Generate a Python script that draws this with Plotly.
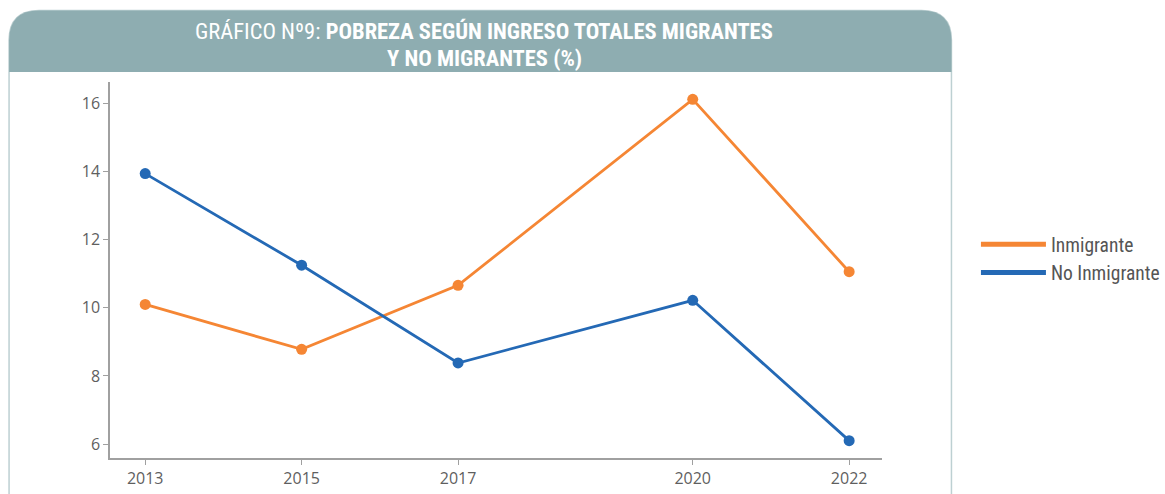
import plotly.graph_objects as go

years = [2013, 2015, 2017, 2020, 2022]
inmigrante = [10.1, 8.78, 10.66, 16.12, 11.06]
no_inmigrante = [13.94, 11.25, 8.38, 10.22, 6.1]
series_names = ["Inmigrante", "No Inmigrante"]
y_ticks = [6, 8, 10, 12, 14, 16]
x_ticks = [2013, 2015, 2017, 2020, 2022]

ORANGE = "#F58634"
BLUE = "#2469B5"
TEAL = "#8EADB1"

W, H = 1165, 494
OFF = 0  # page body margin removed by post_script
# plot-area edges in screen pixels
SL, SR, ST, SB = 109.5, 882, 81.7, 458.3
L, R, T, B = SL - OFF, SR - OFF, ST - OFF, SB - OFF


def px(x):
    return (x - OFF - L) / (R - L)


def py(y):
    return (B - (y - OFF)) / (B - T)


fig = go.Figure()
for name, vals, col in [(series_names[0], inmigrante, ORANGE), (series_names[1], no_inmigrante, BLUE)]:
    fig.add_trace(go.Scatter(x=years, y=vals, mode="lines+markers", name=name,
                             line=dict(color=col, width=2.8), marker=dict(color=col, size=11),
                             showlegend=False))
for name, col in [(series_names[0], ORANGE), (series_names[1], BLUE)]:
    fig.add_trace(go.Scatter(x=[None], y=[None], mode="lines", name=name,
                             line=dict(color=col, width=5)))

# frame + header banner
r = 30
x0, x1, y0, y1 = 8.5, 951.5, 10, 71.7
banner = (f"M {px(x0)},{py(y1)} L {px(x0)},{py(y0 + r)} "
          f"Q {px(x0)},{py(y0)} {px(x0 + r)},{py(y0)} "
          f"L {px(x1 - r)},{py(y0)} Q {px(x1)},{py(y0)} {px(x1)},{py(y0 + r)} "
          f"L {px(x1)},{py(y1)} Z")
frame = (f"M {px(x0)},{py(H + 20)} L {px(x0)},{py(y0 + r)} "
         f"Q {px(x0)},{py(y0)} {px(x0 + r)},{py(y0)} "
         f"L {px(x1 - r)},{py(y0)} Q {px(x1)},{py(y0)} {px(x1)},{py(y0 + r)} "
         f"L {px(x1)},{py(H + 20)}")
fig.add_shape(type="path", path=frame, xref="paper", yref="paper",
              line=dict(color="#BDD0D2", width=1.5), layer="below")
fig.add_shape(type="path", path=banner, xref="paper", yref="paper",
              fillcolor=TEAL, line=dict(width=0), layer="below")

title_font = dict(family="Liberation Sans Narrow, Roboto Condensed, Roboto", size=22.5, color="white")
fig.add_annotation(x=px(484), y=py(31), xref="paper", yref="paper", showarrow=False,
                   text="GRÁFICO Nº9: <b>POBREZA SEGÚN INGRESO TOTALES MIGRANTES</b>",
                   font=title_font, xanchor="center", yanchor="middle")
fig.add_annotation(x=px(484), y=py(58), xref="paper", yref="paper", showarrow=False,
                   text="<b>Y NO MIGRANTES (%)</b>",
                   font=title_font, xanchor="center", yanchor="middle")

axis_common = dict(showgrid=False, zeroline=False, showline=True, linecolor="#A0A0A0", linewidth=1.5,
                   ticks="outside", ticklen=5, tickcolor="#A0A0A0", tickwidth=1,
                   tickfont=dict(family="Open Sans, DejaVu Sans", size=16, color="#5F5F5F"))

fig.update_layout(
    width=W, height=H,
    margin=dict(l=L, r=W - R, t=T, b=H - B, pad=0, autoexpand=False),
    paper_bgcolor="white", plot_bgcolor="white",
    xaxis=dict(range=[2012.55, 2022.42], tickvals=x_ticks, ticktext=[str(v) for v in x_ticks],
               automargin=False, **axis_common),
    yaxis=dict(range=[5.59, 16.63], tickvals=y_ticks, automargin=False, **axis_common),
    legend=dict(x=px(976), y=py(225), xanchor="left", yanchor="top",
                font=dict(family="Liberation Sans Narrow, Roboto Condensed, Roboto", size=19.5, color="#555555"),
                itemwidth=65, tracegroupgap=0, bgcolor="rgba(0,0,0,0)"),
    showlegend=True,
)

fig.write_html("out.html", config={"displayModeBar": False},
               post_script="document.body.style.margin='0px';document.body.style.overflow='hidden';")
